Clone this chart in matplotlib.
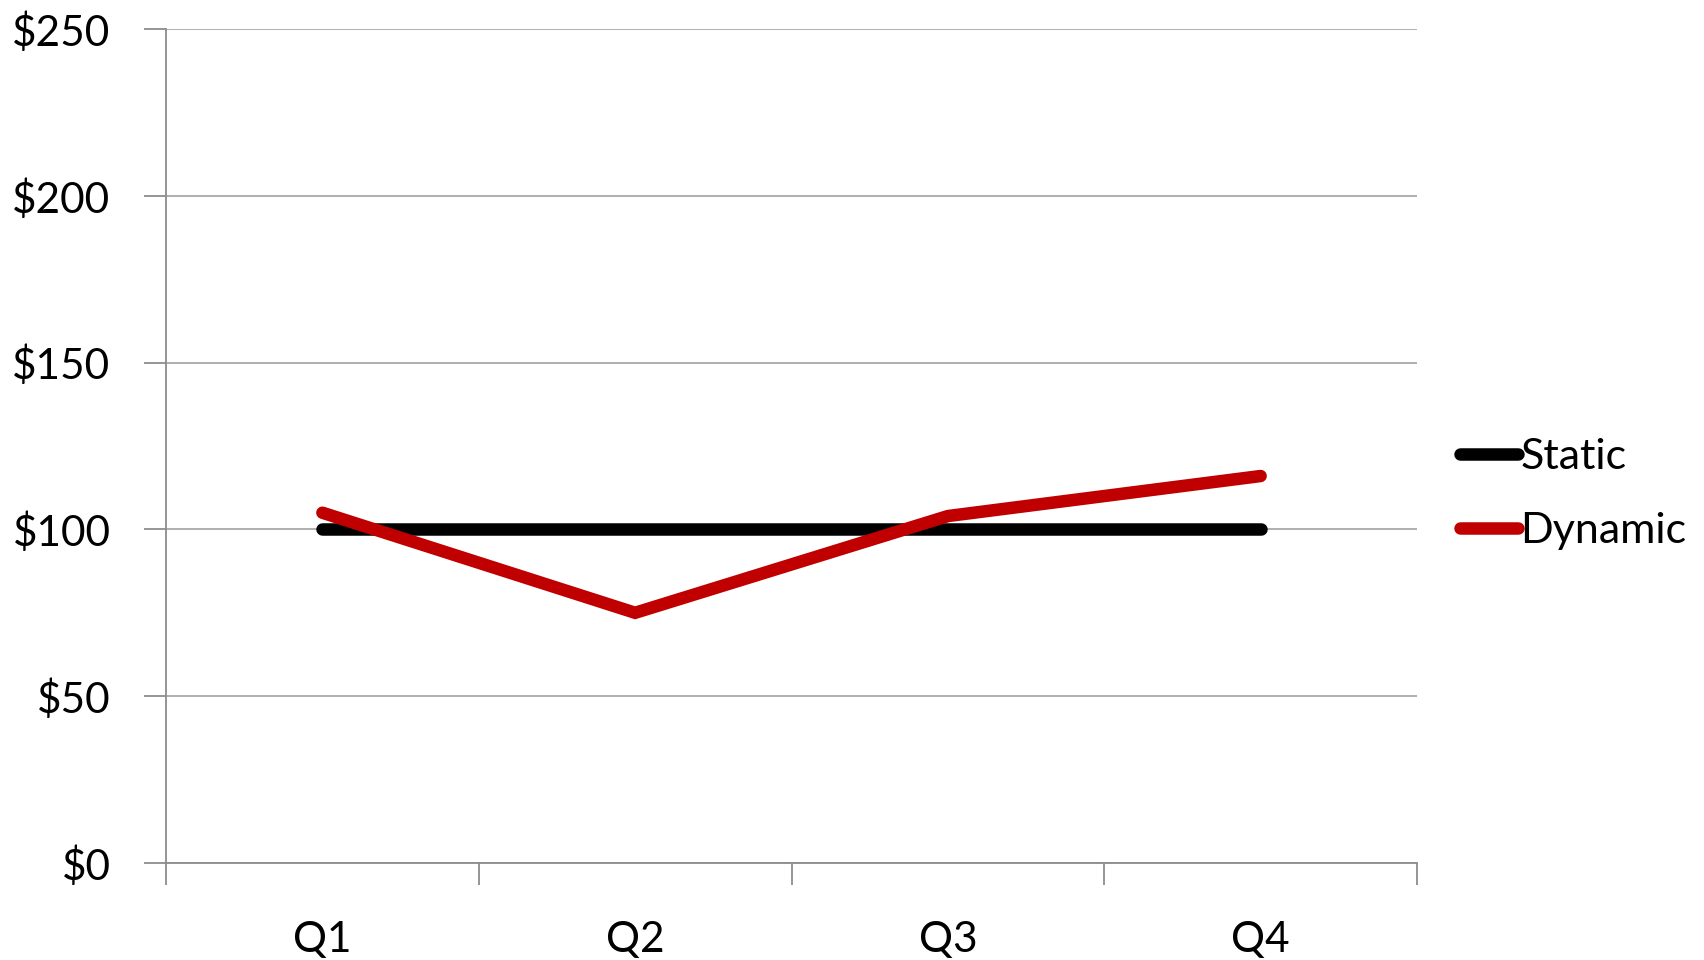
import matplotlib
matplotlib.use("Agg")
import matplotlib.pyplot as plt
from matplotlib.ticker import FuncFormatter, FixedLocator

quarters = ["Q1", "Q2", "Q3", "Q4"]
static_vals = [100, 100, 100, 100]
dynamic_vals = [105, 75, 104, 116]
y_ticks = [0, 50, 100, 150, 200, 250]

plt.rcParams["font.family"] = ["Lato", "DejaVu Sans"]

fig = plt.figure(figsize=(17.04, 9.6), dpi=100)
ax = fig.add_axes([166 / 1704, 1 - 863 / 960, (1417 - 166) / 1704, (863 - 29) / 960])

x = [i + 0.5 for i in range(len(quarters))]
ax.plot(x, static_vals, color="black", lw=9, solid_capstyle="round",
        solid_joinstyle="round", label="Static", zorder=3)
ax.plot(x, dynamic_vals, color="#C00000", lw=9, solid_capstyle="round",
        solid_joinstyle="miter", label="Dynamic", zorder=4)

ax.set_xlim(0, len(quarters))
ax.set_ylim(0, 250)
ax.set_yticks(y_ticks)
ax.yaxis.set_major_formatter(FuncFormatter(lambda v, p: f"${v:.0f}"))

ax.xaxis.set_major_locator(FixedLocator(range(len(quarters) + 1)))
ax.xaxis.set_major_formatter(FuncFormatter(lambda v, p: ""))
ax.xaxis.set_minor_locator(FixedLocator(x))
ax.set_xticklabels(quarters, minor=True)
ax.tick_params(axis="x", which="minor", length=0, pad=42, labelsize=30.5)
ax.tick_params(axis="x", which="major", length=16, width=1.3, color="#8c8c8c",
               direction="out")
ax.tick_params(axis="y", length=16, width=1.3, color="#8c8c8c", direction="out",
               labelsize=30.5, pad=24)

ax.grid(axis="y", color="#9a9a9a", lw=1.1)
ax.set_axisbelow(True)
for side in ("top", "right"):
    ax.spines[side].set_visible(False)
for side in ("left", "bottom"):
    ax.spines[side].set_color("#8c8c8c")
    ax.spines[side].set_linewidth(1.3)

fig.legend(loc="center left", bbox_to_anchor=(1460 / 1704, 1 - 494 / 960),
           frameon=False, fontsize=31, handlelength=1.35, handletextpad=0.05,
           labelspacing=0.85, borderaxespad=0, borderpad=0)

fig.savefig("out.png", dpi=100)
